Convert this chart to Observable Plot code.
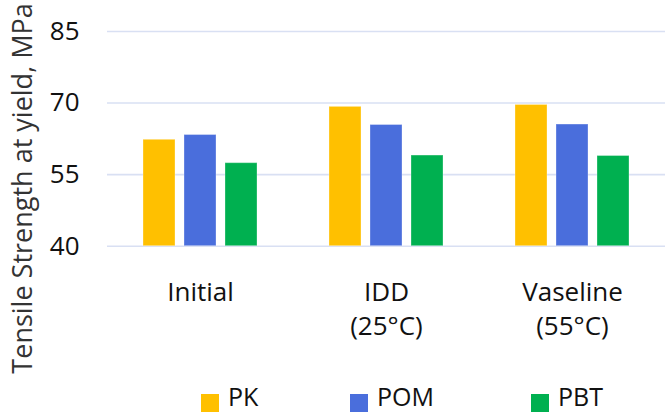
<!DOCTYPE html>
<html>
<head>
<meta charset="utf-8">
<script src="https://cdn.jsdelivr.net/npm/d3@7"></script>
<script src="https://cdn.jsdelivr.net/npm/@observablehq/plot@0.6"></script>
<style>
  html, body { margin: 0; padding: 0; background: #fff; }
  #wrap { position: relative; width: 665px; height: 414px; overflow: hidden; font-family: "Open Sans", sans-serif; }
  #legend { position: absolute; top: 384px; left: 0; width: 665px; height: 30px; }
  .item { position: absolute; top: 0; display: flex; align-items: flex-start; font-size: 25px; color: #111; line-height: 25px; white-space: nowrap; }
  .sw { width: 18px; height: 18px; margin-right: 9px; margin-top: 10px; flex: none; }
</style>
</head>
<body>
<div id="wrap"></div>
<script>
const groups = ["Initial", "IDD\n(25°C)", "Vaseline\n(55°C)"];
const series = ["PK", "POM", "PBT"];
const pkValues = [62.3, 69.2, 69.6];
const pomValues = [63.3, 65.4, 65.5];
const pbtValues = [57.4, 59.0, 58.9];
const seriesColors = ["#FFC000", "#4A6EDC", "#00B050"];
const yTicks = [40, 55, 70, 85];
const yTitle = "Tensile Strength at yield, MPa";

const valuesBySeries = [pkValues, pomValues, pbtValues];
const data = [];
groups.forEach((g, gi) => {
  series.forEach((s, si) => {
    data.push({group: g, series: s, value: valuesBySeries[si][gi]});
  });
});

const H = 380;
const chart = Plot.plot({
  width: 665,
  height: H,
  marginLeft: 106,
  marginRight: 0,
  marginTop: 31,
  marginBottom: H - 245.7,
  style: {fontFamily: "Open Sans", fontSize: "26px", color: "#111", background: "#fff"},
  fx: {domain: groups, padding: 0, label: null, axis: null},
  x: {domain: series, paddingInner: 0.21, paddingOuter: 0.85, axis: null},
  y: {domain: [yTicks[0], yTicks[yTicks.length - 1]], label: null, axis: null},
  color: {domain: series, range: seriesColors},
  marks: [
    Plot.gridY(yTicks, {stroke: "#D9E0F3", strokeOpacity: 1, strokeWidth: 1.6}),
    Plot.barY(data, {fx: "group", x: "series", y1: () => yTicks[0], y2: "value", fill: "series",
      stroke: "#fff", strokeOpacity: 0.3, strokeWidth: 1}),
    Plot.axisY(yTicks, {tickSize: 0, tickPadding: 28, label: null, fontSize: 26, fill: "#111"}),
    Plot.axisFx({anchor: "bottom", tickSize: 0, tickPadding: 31, label: null, fontSize: 26, lineHeight: 1.31, fill: "#111"})
  ]
});

const wrap = document.getElementById("wrap");
wrap.appendChild(chart);

// y-axis title
d3.select(chart).append("text")
  .attr("transform", "translate(32,188.5) rotate(-90)")
  .attr("text-anchor", "middle")
  .attr("font-family", "Open Sans")
  .attr("font-size", 27)
  .attr("fill", "#333")
  .text(yTitle);

// legend
const legend = document.createElement("div");
legend.id = "legend";
const lefts = [201, 350, 531];
series.forEach((s, i) => {
  const item = document.createElement("div");
  item.className = "item";
  item.style.left = lefts[i] + "px";
  const sw = document.createElement("span");
  sw.className = "sw";
  sw.style.background = seriesColors[i];
  const t = document.createElement("span");
  t.textContent = s;
  item.appendChild(sw);
  item.appendChild(t);
  legend.appendChild(item);
});
wrap.appendChild(legend);
</script>
</body>
</html>
